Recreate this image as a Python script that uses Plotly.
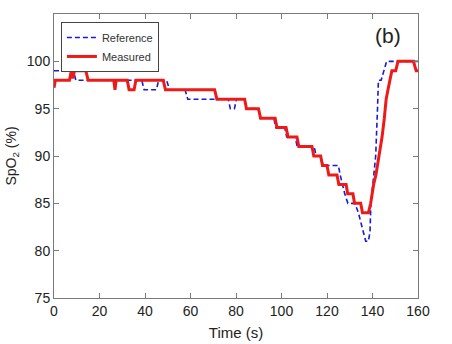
import plotly.graph_objects as go

# Reference (blue dashed) SpO2 readings
ref_t = [0, 8.6, 9.6, 38.6, 39.6, 45.0, 46.0, 49.5, 50.8, 57.6, 58.8, 76.6, 77.5, 79.3,
         80.2, 83.8, 84.6, 89.8, 90.6, 96.6, 97.5, 101.4, 102.3, 106.0, 106.9, 114.3,
         115.3, 117.4, 118.3, 125.0, 125.8, 126.8, 127.8, 129.2, 132.3, 133.8, 134.8,
         136.0, 137.0, 138.2, 138.9, 139.3, 140.5, 141.4, 142.2, 142.6, 143.8, 145.0,
         146.2, 160]
ref_v = [99, 99, 98, 98, 97, 97, 98, 98, 97, 97, 96, 96, 95, 95,
         96, 96, 95, 95, 94, 94, 93, 93, 92, 92, 91, 91,
         90, 90, 89, 89, 88, 87, 86, 85, 85, 84, 83,
         82, 81, 81, 82, 85, 88, 90, 95, 98, 98, 99,
         100, 100]

# Measured (red solid) SpO2 readings
meas_t = [0, 0.6, 6.8, 7.6, 8.3, 9.0, 14.0, 15.0, 26.3, 26.8, 27.3, 32.2, 33.0, 35.2,
          36.0, 48.0, 49.0, 70.6, 71.6, 83.8, 84.6, 89.9, 90.8, 97.2, 98.0, 102.0,
          102.9, 106.8, 107.6, 113.4, 114.2, 117.2, 118.0, 120.0, 120.8, 124.4, 125.2,
          128.4, 129.1, 131.4, 132.1, 134.8, 135.6, 138.2, 139.2, 140.5, 141.5, 143.0,
          144.2, 145.2, 146.0, 146.8, 147.5, 148.5, 150.2, 151.2, 158.0, 159.2, 160]
meas_v = [97.2, 98, 98, 99, 98.2, 99, 99, 98, 98, 97, 98, 98, 97, 97,
          98, 98, 97, 97, 96, 96, 95, 95, 94, 94, 93, 93,
          92, 92, 91, 91, 90, 90, 89, 89, 88, 88, 87,
          87, 86, 86, 85, 85, 84, 84, 85, 87, 88, 90,
          92, 94, 96, 97, 98, 99, 99, 100, 100, 99, 99]

x_ticks = [0, 20, 40, 60, 80, 100, 120, 140, 160]
y_ticks = [75, 80, 85, 90, 95, 100]

FONT = "Liberation Sans, Arial"

fig = go.Figure()
fig.add_trace(go.Scatter(x=ref_t, y=ref_v, mode="lines", name="Reference",
                         line=dict(color="#1a1ad8", width=1.6, dash="5px,3px")))
fig.add_trace(go.Scatter(x=meas_t, y=meas_v, mode="lines", name="Measured",
                         line=dict(color="#ee1a1a", width=3)))

axis_common = dict(showline=True, linecolor="#7a7a7a", linewidth=1, mirror="ticks",
                   ticks="inside", ticklen=5, tickcolor="#7a7a7a", showgrid=False,
                   zeroline=False, automargin=False,
                   tickfont=dict(family=FONT, size=14, color="#222"))

fig.update_xaxes(range=[0, 160], tickvals=x_ticks,
                 title=dict(text="Time (s)", standoff=9, font=dict(family=FONT, size=15, color="#222")),
                 **axis_common)
fig.update_yaxes(range=[75, 105], tickvals=y_ticks,
                 title=dict(text="SpO<sub>2</sub> (%)", standoff=6, font=dict(family=FONT, size=14, color="#222")),
                 **axis_common)

fig.add_annotation(x=0.918, y=0.926, xref="paper", yref="paper", xanchor="center", yanchor="middle",
                   text="(b)", showarrow=False,
                   font=dict(family=FONT, size=21, color="#222"))

fig.update_layout(
    width=452, height=344,
    margin=dict(l=54, r=34, t=14, b=46),
    paper_bgcolor="white", plot_bgcolor="white",
    showlegend=True,
    legend=dict(x=0.019, y=0.972, xanchor="left", yanchor="top",
                bgcolor="white", bordercolor="#444", borderwidth=1,
                font=dict(family=FONT, size=11, color="#333"),
                tracegroupgap=0, itemwidth=30),
)

fig.write_html("out.html")
